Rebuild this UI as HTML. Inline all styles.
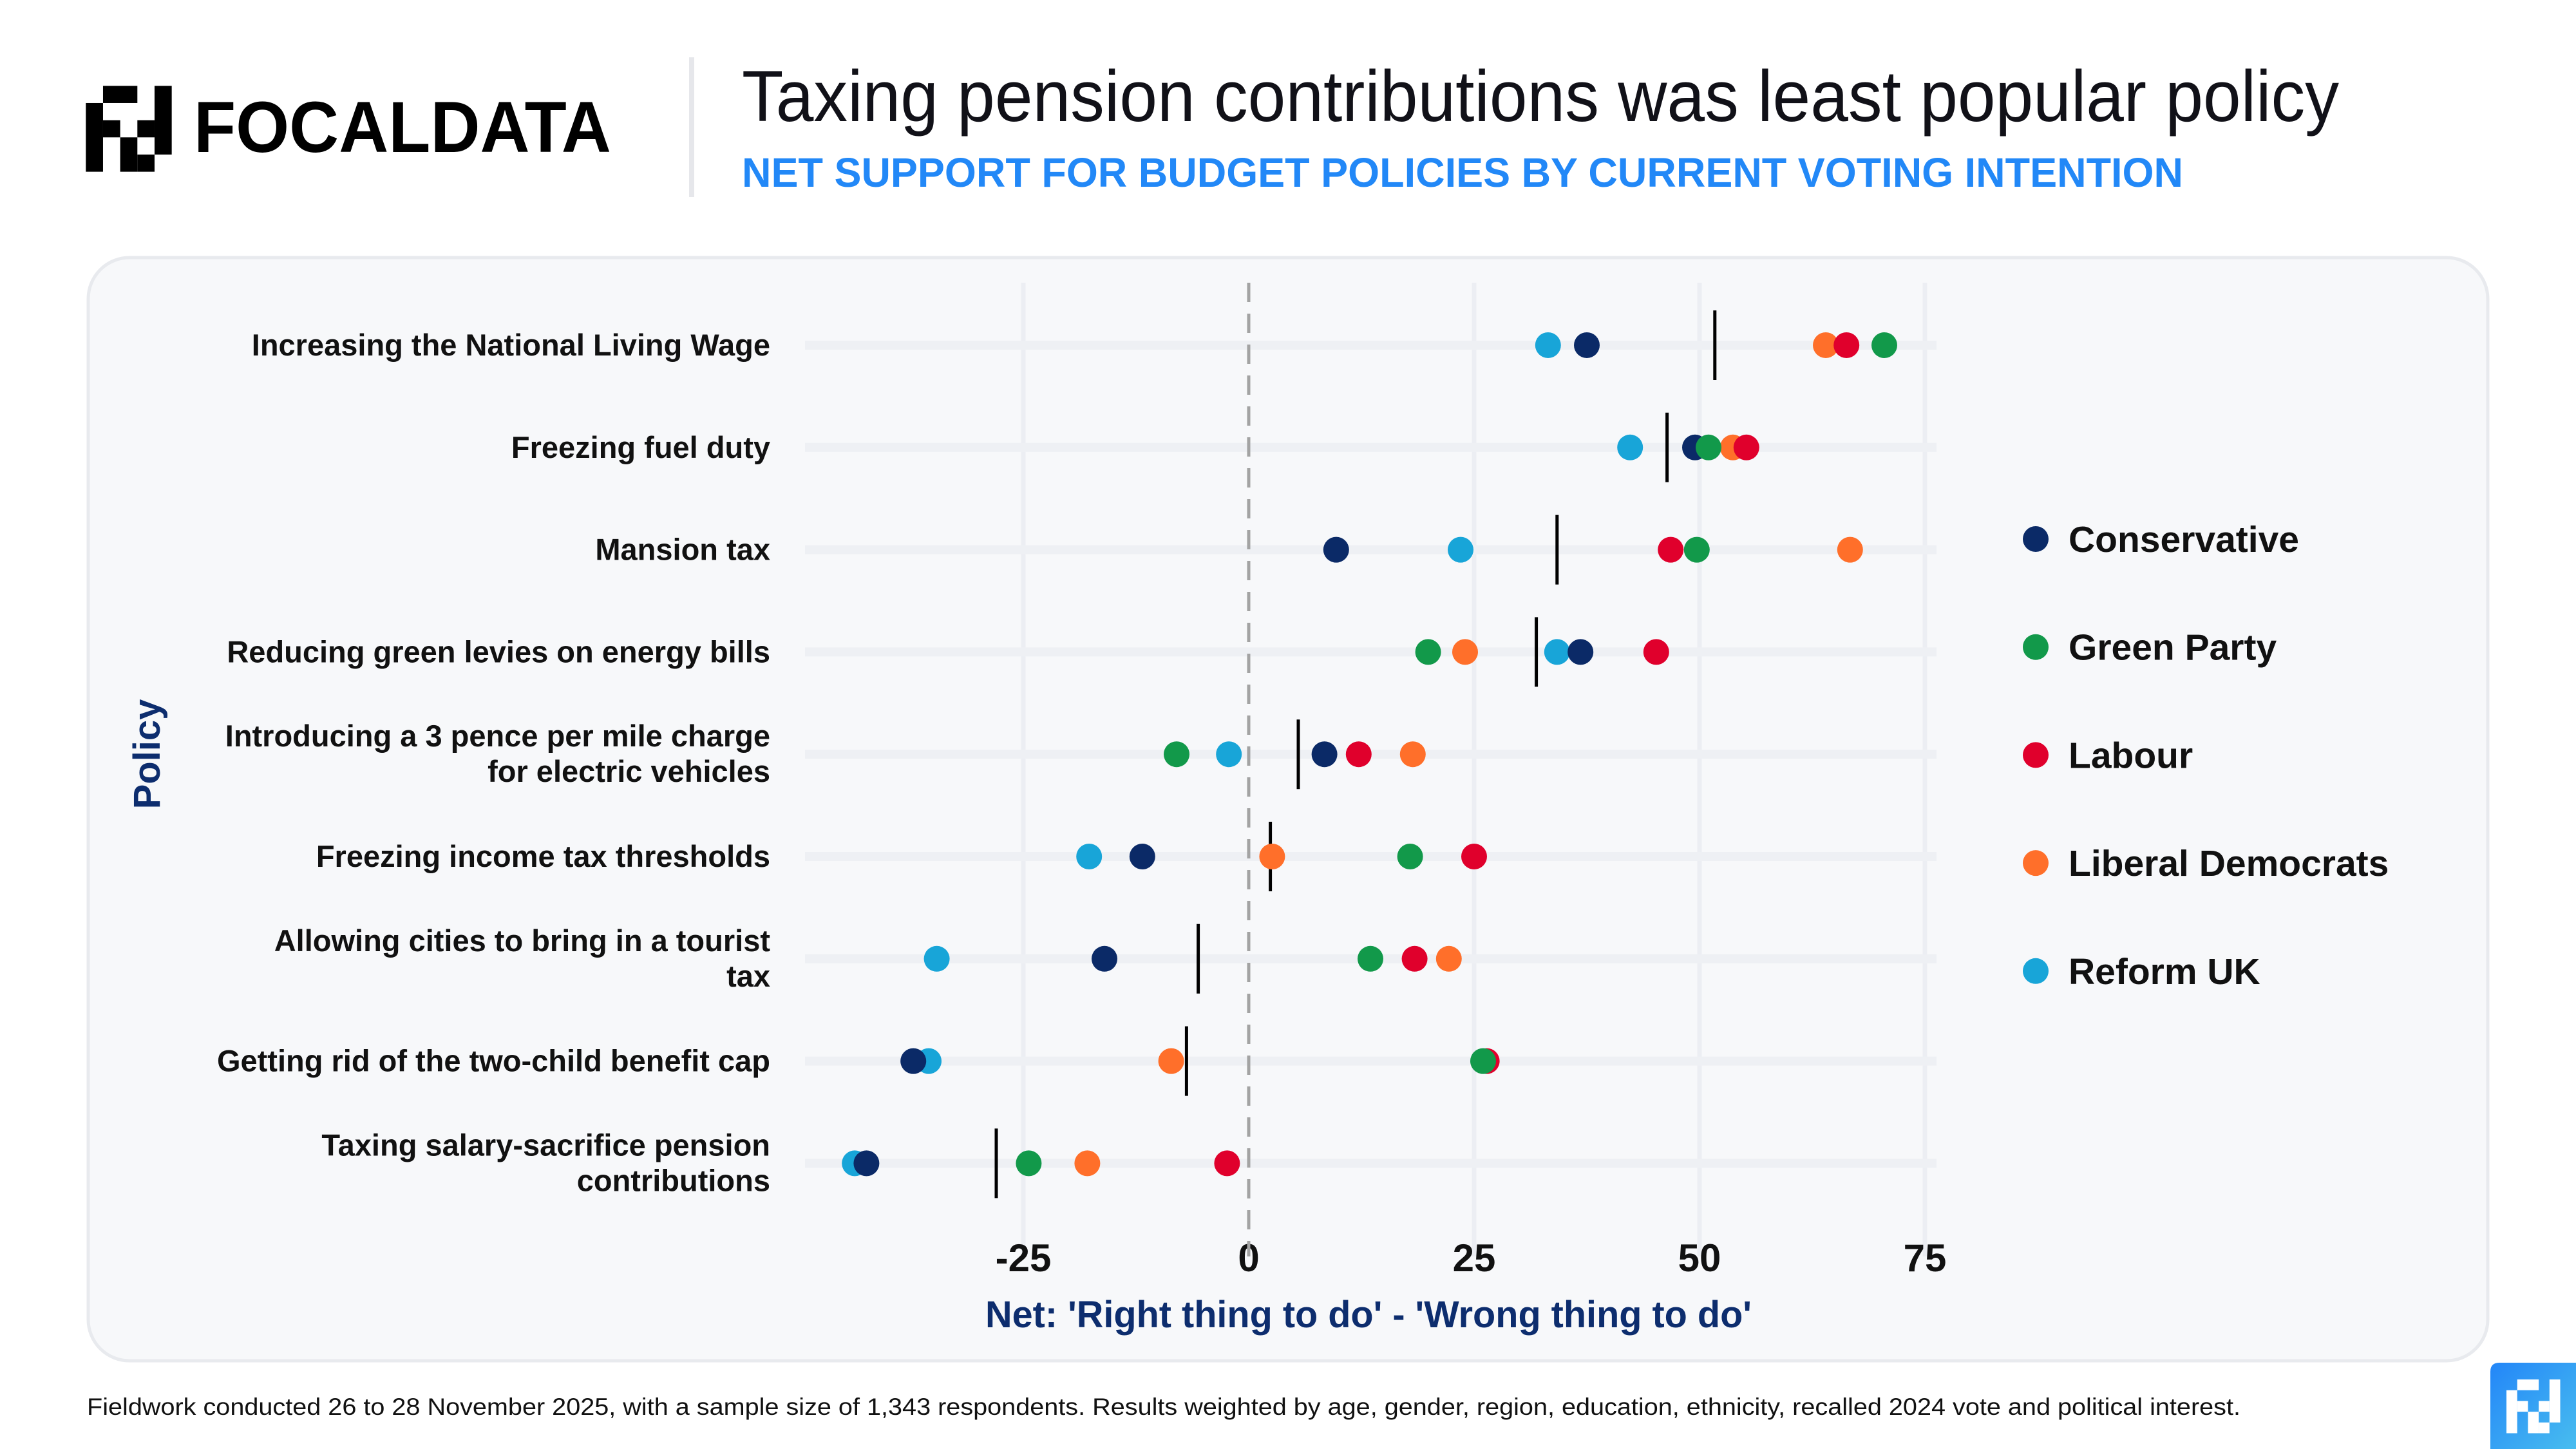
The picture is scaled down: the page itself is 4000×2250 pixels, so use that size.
<!DOCTYPE html>
<html><head><meta charset="utf-8"><style>
html,body{margin:0;padding:0;background:#fff;}
svg{display:block;}
text{font-family:"Liberation Sans",sans-serif;}
</style></head><body>
<svg id="chart" width="4000" height="2250" viewBox="0 0 4000 2250" xmlns="http://www.w3.org/2000/svg">
<g id="logo"></g>
<text x="301" y="236" font-size="112" font-weight="bold" fill="#000" textLength="648" lengthAdjust="spacingAndGlyphs">FOCALDATA</text>
<rect x="1070" y="89" width="8" height="217" fill="#e6e7eb"/>
<text x="1152" y="188" font-size="112" fill="#111118" textLength="2480" lengthAdjust="spacingAndGlyphs">Taxing pension contributions was least popular policy</text>
<text x="1152" y="290" font-size="64" font-weight="bold" fill="#2288f7" textLength="2238" lengthAdjust="spacingAndGlyphs">NET SUPPORT FOR BUDGET POLICIES BY CURRENT VOTING INTENTION</text>
<rect x="137" y="400" width="3726" height="1713" rx="64" fill="#f7f8fa" stroke="#e8eaee" stroke-width="5"/>
<g id="plot"></g>
<text transform="translate(248,1171) rotate(-90)" text-anchor="middle" font-size="58" font-weight="bold" fill="#0d2d6e">Policy</text>
<text x="2125" y="2061" text-anchor="middle" font-size="58" font-weight="bold" fill="#0d2d6e" textLength="1190" lengthAdjust="spacingAndGlyphs">Net: 'Right thing to do' - 'Wrong thing to do'</text>
<g id="legend"></g>
<text x="135" y="2197" font-size="37" fill="#111" textLength="3344" lengthAdjust="spacingAndGlyphs">Fieldwork conducted 26 to 28 November 2025, with a sample size of 1,343 respondents. Results weighted by age, gender, region, education, ethnicity, recalled 2024 vote and political interest.</text>
<defs><linearGradient id="bg" x1="0" y1="0" x2="1" y2="1"><stop offset="0" stop-color="#2386f8"/><stop offset="1" stop-color="#48bdef"/></linearGradient></defs>
<path d="M3867 2250 V2130 Q3867 2116 3881 2116 H4000 V2250 Z" fill="url(#bg)"/>
<g id="badge"></g>
</svg>
<script>
const categories = [
  ["Increasing the National Living Wage"],
  ["Freezing fuel duty"],
  ["Mansion tax"],
  ["Reducing green levies on energy bills"],
  ["Introducing a 3 pence per mile charge","for electric vehicles"],
  ["Freezing income tax thresholds"],
  ["Allowing cities to bring in a tourist","tax"],
  ["Getting rid of the two-child benefit cap"],
  ["Taxing salary-sacrifice pension","contributions"]
];
const parties = ["Conservative","Green Party","Labour","Liberal Democrats","Reform UK"];
const partyColors = ["#0b2a67","#12994a","#e0002c","#ff6f2a","#18a5d8"];
const conservative = [37.5, 49.5, 9.7, 36.8, 8.4, -11.8, -16, -37.2, -42.4];
const green = [70.5, 51, 49.7, 19.9, -8, 17.9, 13.5, 26, -24.4];
const labour = [66.3, 55.2, 46.8, 45.2, 12.2, 25, 18.4, 26.4, -2.4];
const libdem = [64, 53.7, 66.7, 24, 18.2, 2.6, 22.2, -8.6, -17.9];
const reform = [33.2, 42.3, 23.5, 34.2, -2.2, -17.7, -34.6, -35.5, -43.7];
const average = [51.7, 46.4, 34.2, 31.9, 5.5, 2.4, -5.6, -6.9, -28];
const xTicks = [-25, 0, 25, 50, 75];
const xTickLabels = ["-25","0","25","50","75"];
const drawOrder = [4,0,3,2,1];

const NS = "http://www.w3.org/2000/svg";
function mk(tag, attrs, parent){const e=document.createElementNS(NS,tag);for(const k in attrs)e.setAttribute(k,attrs[k]);parent.appendChild(e);return e;}
const X0 = 1939, XU = 14.0;
function xScale(v){return X0 + v*XU;}
function yScale(i){return 536 + i*158.8;}

const plot = document.getElementById("plot");
// vertical grid
xTicks.forEach((t,i)=>{
  if(t!==0){
    const g = mk("line",{x1:xScale(t),x2:xScale(t),y1:439,y2:1951,stroke:"#eceef3","stroke-width":7},plot);
    
    
  }
  const tl = mk("text",{x:xScale(t),y:1974,"text-anchor":"middle","font-size":60,"font-weight":"bold",fill:"#111"},plot);
  tl.textContent = xTickLabels[i];
  
  
});
// row lines
categories.forEach((c,i)=>{
  const l = mk("line",{x1:1250,x2:3007,y1:yScale(i),y2:yScale(i),stroke:"#eef0f4","stroke-width":14},plot);
  
  
});
const zero = mk("line",{x1:xScale(0),x2:xScale(0),y1:439,y2:1951,stroke:"#a3a3a3","stroke-width":5,"stroke-dasharray":"30 18"},plot);


// category labels
categories.forEach((lines,i)=>{
  const y = yScale(i);
  lines.forEach((ln,j)=>{
    const off = lines.length===1 ? 16 : (j===0 ? -12 : 43);
    const t = mk("text",{x:1196,y:y+off,"text-anchor":"end","font-size":47,"font-weight":"bold",fill:"#111"},plot);
    t.textContent = ln;
    
    
  });
});
// average lines
average.forEach((v,i)=>{
  const l = mk("line",{x1:xScale(v),x2:xScale(v),y1:yScale(i)-54,y2:yScale(i)+54,stroke:"#000","stroke-width":5},plot);
  
  
});
// dots
const series = [conservative, green, labour, libdem, reform];
categories.forEach((c,i)=>{
  drawOrder.forEach(p=>{
    const d = mk("circle",{cx:xScale(series[p][i]),cy:yScale(i),r:20,fill:partyColors[p]},plot);
    
    
  });
});
// legend
const legend = document.getElementById("legend");
parties.forEach((p,i)=>{
  const y = 837 + i*167.7;
  const c = mk("circle",{cx:3161,cy:y,r:20,fill:partyColors[i]},legend);
  
  
  const t = mk("text",{x:3212,y:y+20,"font-size":57,"font-weight":"bold",fill:"#111"},legend);
  t.textContent = p;
  
  
});
// logo marks
const blocks = [[1,0,2,1],[0,1,1,4],[1,2,1,1],[2,3,1,2],[3,4,1,1],[3,2,1,1],[4,0,1,4]];
function drawMark(g, ox, oy, u, fill){
  blocks.forEach(b=>{
    const r = mk("rect",{x:ox+b[0]*u,y:oy+b[1]*u,width:b[2]*u,height:b[3]*u,fill:fill},g);
    
    
  });
}
drawMark(document.getElementById("logo"),133.3,133.3,26.67,"#000");
drawMark(document.getElementById("badge"),3892,2142,16.7,"#fff");
</script>
</body></html>
